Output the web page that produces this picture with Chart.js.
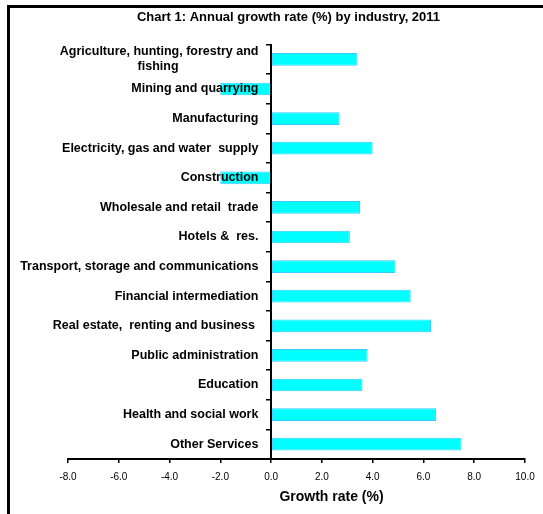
<!DOCTYPE html>
<html>
<head>
<meta charset="utf-8">
<script src="https://cdn.jsdelivr.net/npm/chart.js@4.4.1/dist/chart.umd.min.js"></script>
<style>
    html, body { margin: 0; padding: 0; background: #fff; }
    #wrap { position: relative; width: 543px; height: 514px; overflow: hidden; }
    #growthChart { position: absolute; left: 0; top: 0; }
    /* frame line on the left and top of the chart */
    #frame {
        position: absolute; left: 7px; top: 5px; width: 600px; height: 600px;
        border-left: 3px solid #000; border-top: 3px solid #000;
        pointer-events: none;
    }
</style>
</head>
<body>
<div id="wrap">
    <canvas id="growthChart" width="543" height="514"></canvas>
    <div id="frame"></div>
</div>
<script>
// Industries, top to bottom
const industries = [
    ['Agriculture, hunting, forestry and', 'fishing'],
    'Mining and quarrying',
    'Manufacturing',
    'Electricity, gas and water  supply',
    'Construction',
    'Wholesale and retail  trade',
    'Hotels &  res.',
    'Transport, storage and communications',
    'Financial intermediation',
    'Real estate,  renting and business ',
    'Public administration',
    'Education',
    'Health and social work',
    'Other Services'
];

// Annual growth rate (%), 2011
const growthRates = [3.4, -2.0, 2.7, 4.0, -2.0, 3.5, 3.1, 4.9, 5.5, 6.3, 3.8, 3.6, 6.5, 7.5];

const xMin = -8;
const xMax = 10;
const xStep = 2;

const FONT = 'Liberation Sans, Arial, sans-serif';
const labelFont = { family: FONT, size: 12.5, weight: 'bold' };

// centre the second line of a wrapped label under the first one (labels are right aligned)
function centreWrapped(lines) {
    if (!Array.isArray(lines)) return lines;
    const c = document.createElement('canvas').getContext('2d');
    c.font = `bold ${labelFont.size}px ${labelFont.family}`;
    const w1 = c.measureText(lines[0]).width;
    const w2 = c.measureText(lines[1]).width;
    const sp = c.measureText(' ').width;
    const n = Math.max(0, Math.round((w1 - w2) / 2 / sp));
    return [lines[0], lines[1] + ' '.repeat(n)];
}

// title sits over the whole frame, axis title sits right of the plot centre
const titleShift = {
    id: 'titleShift',
    afterLayout(chart) {
        if (chart.titleBlock) {
            chart.titleBlock.left -= 16;
        }
        const sx = chart.scales.x;
        if (sx && !sx._shifted) {
            const drawTitle = sx.drawTitle.bind(sx);
            sx.drawTitle = function () {
                this.ctx.save();
                this.ctx.translate(35, 0);
                drawTitle();
                this.ctx.restore();
            };
            sx._shifted = true;
        }
    }
};

const ctx = document.getElementById('growthChart');

new Chart(ctx, {
    type: 'bar',
    data: {
        labels: industries.map(centreWrapped),
        datasets: [{
            data: growthRates,
            yAxisID: 'y',
            backgroundColor: '#00FFFF',
            borderColor: '#33CCFF',
            borderWidth: 1,
            borderSkipped: false,
            barPercentage: 0.43,
            categoryPercentage: 1
        }]
    },
    options: {
        indexAxis: 'y',
        responsive: false,
        animation: false,
        devicePixelRatio: 1,
        layout: {
            padding: { left: 68, right: 18, top: 0, bottom: 4 }
        },
        plugins: {
            legend: { display: false },
            tooltip: { enabled: false },
            title: {
                display: true,
                text: 'Chart 1: Annual growth rate (%) by industry, 2011',
                color: '#000',
                font: { family: FONT, size: 13, weight: 'bold' },
                padding: { top: 10, bottom: 19 }
            }
        },
        scales: {
            x: {
                type: 'linear',
                min: xMin,
                max: xMax,
                position: 'bottom',
                afterFit: scale => { scale.height = 51; },
                border: { color: '#000', width: 2 },
                grid: { drawOnChartArea: false, drawTicks: true, tickLength: 4, color: '#000', lineWidth: 1.5 },
                ticks: {
                    stepSize: xStep,
                    color: '#000',
                    padding: 8,
                    minRotation: 0,
                    maxRotation: 0,
                    font: { family: FONT, size: 10 },
                    callback: v => v.toFixed(1)
                },
                title: {
                    display: true,
                    text: 'Growth rate (%)',
                    color: '#000',
                    font: { family: FONT, size: 14, weight: 'bold' },
                    padding: { top: 6, bottom: 4 }
                }
            },
            // axis line and tick marks at zero
            y: {
                type: 'category',
                position: { x: 0 },
                offset: true,
                border: { color: '#000', width: 2 },
                grid: { drawOnChartArea: false, drawTicks: true, tickLength: 4, color: '#000', lineWidth: 1.5, offset: true },
                ticks: { display: false }
            },
            // industry names, drawn over the bars
            yLabels: {
                axis: 'y',
                type: 'category',
                position: { x: -0.5 },
                offset: true,
                border: { display: false },
                grid: { display: false },
                ticks: {
                    color: '#000',
                    autoSkip: false,
                    z: 1,
                    font: labelFont
                }
            }
        }
    },
    plugins: [titleShift]
});
</script>
</body>
</html>
